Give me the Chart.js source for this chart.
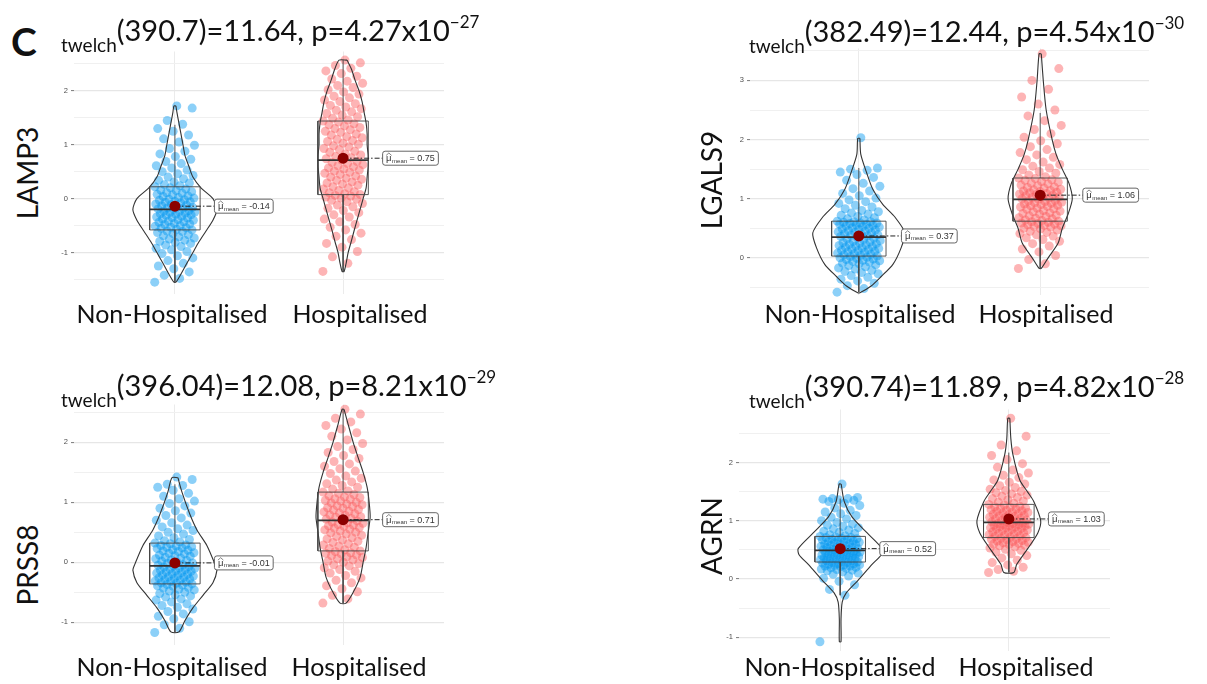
<!DOCTYPE html>
<html>
<head>
<meta charset="utf-8">
<script src="https://cdn.jsdelivr.net/npm/chart.js@4.4.1/dist/chart.umd.min.js"></script>
<style>
*{box-sizing:border-box;margin:0;padding:0}
body{width:1207px;height:684px;background:#fff;overflow:hidden;font-family:Lato,sans-serif;color:#111}
#wrap{position:relative;width:1207px;height:684px}
canvas{position:absolute}
.txt{position:absolute;white-space:nowrap;line-height:1}
.ttl{font-size:29px}
.ttl .sub{font-size:19px;position:relative;top:11px}
.ttl .sup{font-size:17px;position:relative;top:-13px}
.xl{font-size:25px;transform:translateX(-50%)}
.yl{font-size:28px;transform:translate(-50%,-50%) rotate(-90deg)}
.tag{font-size:39px;font-weight:700}
</style>
</head>
<body>
<div id="wrap"></div>
<script>
// groups + per-panel text
const groups = ["Non-Hospitalised", "Hospitalised"];
const genes = ["LAMP3", "LGALS9", "PRSS8", "AGRN"];
const welchDf = ["390.7", "382.49", "396.04", "390.74"];
const welchT = ["11.64", "12.44", "12.08", "11.89"];
const pMant = ["4.27", "4.54", "8.21", "4.82"];
const pExp = ["\u221227", "\u221230", "\u221229", "\u221228"];

// means and box stats (NH = Non-Hospitalised, H = Hospitalised)
const meanNH = [-0.14, 0.37, -0.01, 0.52];
const meanH = [0.75, 1.06, 0.71, 1.03];
const q1NH = [-0.58, 0.03, -0.36, 0.29];
const medNH = [-0.2, 0.35, -0.06, 0.49];
const q3NH = [0.22, 0.62, 0.32, 0.73];
const loNH = [-1.55, -0.58, -1.17, -0.28];
const hiNH = [1.37, 1.52, 1.3, 1.38];
const q1H = [0.075, 0.62, 0.19, 0.71];
const medH = [0.715, 0.99, 0.70, 0.97];
const q3H = [1.44, 1.35, 1.17, 1.28];
const loH = [-1.35, -0.18, -0.68, 0.11];
const hiH = [2.57, 2.45, 2.55, 2.17];

// individual observations (y values)
const lamp3NH = [-1.55,-1.48,-1.42,-1.36,-1.3,-1.25,-1.2,-1.15,-1.1,-1.06,-1.02,-0.98,-0.95,-0.92,-0.89,-0.86,-0.83,-0.81,-0.79,-0.77,-0.75,-0.73,-0.71,-0.69,-0.67,-0.65,-0.63,-0.61,-0.6,-0.58,
  -0.57,-0.55,-0.54,-0.53,-0.51,-0.5,-0.48,-0.47,-0.46,-0.44,-0.43,-0.42,-0.4,-0.39,-0.38,-0.36,-0.35,-0.34,-0.33,-0.31,-0.3,-0.29,-0.28,-0.27,-0.26,-0.25,-0.24,-0.23,-0.22,-0.2,
  -0.19,-0.18,-0.17,-0.16,-0.15,-0.13,-0.12,-0.11,-0.1,-0.08,-0.07,-0.06,-0.05,-0.03,-0.02,-0.01,0.01,0.02,0.04,0.05,0.07,0.08,0.1,0.11,0.13,0.15,0.16,0.18,0.2,0.22,
  0.24,0.26,0.29,0.31,0.34,0.37,0.4,0.43,0.46,0.5,0.53,0.57,0.61,0.65,0.69,0.73,0.78,0.83,0.88,0.93,0.99,1.05,1.11,1.18,1.25,1.3,1.38,1.45,1.68,1.72];
const lamp3H = [-1.35,-1.2,-1.08,-0.98,-0.9,-0.83,-0.76,-0.7,-0.64,-0.58,-0.53,-0.48,-0.43,-0.38,-0.34,-0.3,-0.26,-0.22,-0.18,-0.15,-0.12,-0.09,-0.06,-0.03,-0.01,0.01,0.03,0.05,0.06,0.075,
  0.09,0.11,0.13,0.15,0.18,0.2,0.22,0.25,0.27,0.29,0.31,0.34,0.36,0.38,0.4,0.42,0.45,0.47,0.49,0.51,0.53,0.55,0.57,0.59,0.61,0.63,0.65,0.67,0.69,0.715,
  0.74,0.76,0.78,0.81,0.83,0.86,0.88,0.91,0.93,0.96,0.98,1.01,1.03,1.06,1.08,1.1,1.13,1.15,1.18,1.2,1.23,1.25,1.28,1.3,1.32,1.35,1.37,1.39,1.42,1.44,
  1.46,1.49,1.52,1.55,1.58,1.61,1.64,1.67,1.7,1.73,1.76,1.8,1.83,1.87,1.9,1.94,1.98,2.02,2.06,2.1,2.14,2.18,2.22,2.27,2.32,2.37,2.42,2.47,2.52,2.57];
const lgals9NH = [-0.58,-0.52,-0.47,-0.43,-0.39,-0.36,-0.33,-0.3,-0.27,-0.25,-0.23,-0.21,-0.19,-0.17,-0.15,-0.13,-0.12,-0.1,-0.09,-0.07,-0.06,-0.05,-0.04,-0.03,-0.02,-0.01,0.0,0.01,0.02,0.03,
  0.04,0.05,0.06,0.07,0.08,0.09,0.1,0.11,0.12,0.13,0.14,0.15,0.16,0.17,0.18,0.19,0.2,0.21,0.22,0.23,0.24,0.25,0.26,0.27,0.28,0.29,0.31,0.32,0.33,0.35,
  0.36,0.37,0.38,0.39,0.4,0.41,0.42,0.43,0.44,0.45,0.46,0.47,0.48,0.49,0.5,0.51,0.52,0.53,0.54,0.55,0.56,0.57,0.57,0.58,0.59,0.59,0.6,0.61,0.61,0.62,
  0.64,0.66,0.68,0.7,0.72,0.74,0.76,0.78,0.8,0.83,0.86,0.89,0.92,0.95,0.98,1.01,1.05,1.09,1.13,1.17,1.21,1.26,1.31,1.36,1.41,1.45,1.48,1.5,1.52,2.03];
const lgals9H = [-0.18,-0.1,-0.03,0.04,0.1,0.15,0.2,0.24,0.28,0.31,0.34,0.37,0.39,0.41,0.43,0.45,0.47,0.49,0.5,0.52,0.53,0.54,0.55,0.56,0.57,0.58,0.59,0.6,0.61,0.62,
  0.63,0.64,0.66,0.67,0.68,0.7,0.71,0.72,0.74,0.75,0.76,0.78,0.79,0.8,0.82,0.83,0.84,0.86,0.87,0.88,0.89,0.9,0.91,0.92,0.93,0.94,0.95,0.96,0.97,0.99,
  1.0,1.01,1.02,1.03,1.04,1.05,1.06,1.07,1.08,1.09,1.1,1.11,1.12,1.13,1.14,1.15,1.16,1.18,1.19,1.2,1.22,1.23,1.25,1.26,1.28,1.29,1.31,1.32,1.34,1.35,
  1.37,1.4,1.43,1.46,1.49,1.52,1.55,1.58,1.62,1.66,1.7,1.74,1.78,1.83,1.88,1.93,1.98,2.04,2.1,2.17,2.24,2.32,2.4,2.5,2.6,2.72,2.85,3.0,3.2,3.45];
const prss8NH = [-1.17,-1.1,-1.04,-0.99,-0.94,-0.9,-0.86,-0.82,-0.78,-0.75,-0.72,-0.69,-0.66,-0.63,-0.61,-0.58,-0.56,-0.54,-0.52,-0.5,-0.48,-0.46,-0.45,-0.43,-0.42,-0.4,-0.39,-0.38,-0.37,-0.36,
  -0.35,-0.34,-0.33,-0.32,-0.31,-0.3,-0.29,-0.28,-0.27,-0.26,-0.25,-0.24,-0.23,-0.22,-0.21,-0.2,-0.19,-0.18,-0.17,-0.16,-0.15,-0.14,-0.13,-0.12,-0.11,-0.1,-0.09,-0.08,-0.07,-0.06,
  -0.05,-0.04,-0.02,-0.01,0.0,0.02,0.03,0.04,0.06,0.07,0.08,0.1,0.11,0.12,0.14,0.15,0.16,0.18,0.19,0.2,0.21,0.23,0.24,0.25,0.26,0.27,0.28,0.29,0.31,0.32,
  0.34,0.36,0.38,0.41,0.44,0.47,0.5,0.53,0.56,0.59,0.62,0.66,0.7,0.74,0.78,0.82,0.86,0.9,0.94,0.98,1.02,1.06,1.1,1.15,1.2,1.25,1.28,1.3,1.38,1.42];
const prss8H = [-0.68,-0.61,-0.55,-0.49,-0.44,-0.39,-0.34,-0.3,-0.26,-0.22,-0.18,-0.15,-0.12,-0.09,-0.06,-0.04,-0.02,0.0,0.02,0.04,0.06,0.08,0.09,0.11,0.12,0.14,0.15,0.16,0.18,0.19,
  0.21,0.23,0.25,0.27,0.29,0.31,0.33,0.35,0.37,0.39,0.41,0.43,0.45,0.47,0.49,0.5,0.52,0.54,0.55,0.57,0.58,0.6,0.61,0.62,0.63,0.65,0.66,0.67,0.69,0.7,
  0.72,0.73,0.75,0.76,0.78,0.79,0.81,0.82,0.84,0.85,0.87,0.88,0.9,0.91,0.93,0.94,0.96,0.97,0.99,1.0,1.02,1.03,1.05,1.06,1.08,1.09,1.11,1.13,1.15,1.17,
  1.19,1.22,1.25,1.28,1.31,1.34,1.37,1.4,1.44,1.48,1.52,1.56,1.6,1.64,1.68,1.73,1.78,1.83,1.88,1.93,1.98,2.04,2.1,2.16,2.22,2.28,2.34,2.4,2.47,2.55];
const agrnNH = [-1.08,-0.28,-0.18,-0.1,-0.04,0.01,0.05,0.08,0.1,0.12,0.14,0.15,0.16,0.17,0.18,0.19,0.2,0.21,0.22,0.22,0.23,0.24,0.24,0.25,0.26,0.26,0.27,0.28,0.28,0.29,
  0.3,0.31,0.31,0.32,0.33,0.33,0.34,0.35,0.35,0.36,0.37,0.37,0.38,0.39,0.39,0.4,0.41,0.41,0.42,0.43,0.43,0.44,0.45,0.45,0.46,0.46,0.47,0.48,0.48,0.49,
  0.5,0.51,0.51,0.52,0.53,0.54,0.55,0.55,0.56,0.57,0.58,0.59,0.6,0.6,0.61,0.62,0.63,0.64,0.64,0.65,0.66,0.67,0.68,0.68,0.69,0.7,0.71,0.71,0.72,0.73,
  0.74,0.76,0.78,0.8,0.82,0.84,0.86,0.88,0.9,0.92,0.94,0.97,1.0,1.03,1.06,1.09,1.12,1.15,1.18,1.22,1.26,1.3,1.33,1.35,1.36,1.37,1.38,1.38,1.4,1.63];
const agrnH = [0.11,0.13,0.16,0.2,0.24,0.28,0.32,0.36,0.4,0.43,0.46,0.49,0.51,0.53,0.55,0.57,0.58,0.59,0.6,0.61,0.62,0.63,0.64,0.65,0.66,0.67,0.68,0.69,0.7,0.71,
  0.72,0.73,0.74,0.75,0.76,0.77,0.78,0.79,0.8,0.81,0.82,0.83,0.84,0.85,0.86,0.87,0.88,0.88,0.89,0.9,0.91,0.91,0.92,0.93,0.93,0.94,0.95,0.95,0.96,0.97,
  0.98,0.99,1.0,1.01,1.02,1.03,1.04,1.05,1.06,1.07,1.08,1.09,1.1,1.11,1.12,1.13,1.14,1.15,1.16,1.17,1.18,1.19,1.2,1.21,1.22,1.23,1.24,1.25,1.27,1.28,
  1.3,1.32,1.34,1.36,1.38,1.4,1.42,1.44,1.46,1.48,1.5,1.52,1.54,1.57,1.6,1.63,1.66,1.7,1.74,1.78,1.82,1.87,1.92,1.98,2.05,2.12,2.2,2.3,2.45,2.76];

// violin outlines: [y, half width in category units]
const vioLamp3NH = [[1.72,0.006],[1.6,0.012],[1.4,0.024],[1.2,0.036],[1.0,0.048],[0.8,0.06],[0.6,0.083],[0.4,0.107],[0.2,0.155],[0.0,0.226],[-0.2,0.25],[-0.4,0.226],[-0.6,0.185],[-0.8,0.143],[-1.0,0.107],[-1.2,0.071],[-1.4,0.036],[-1.55,0.006]];
const vioLamp3H = [[2.57,0.024],[2.4,0.05],[2.2,0.071],[2.0,0.095],[1.8,0.113],[1.6,0.125],[1.4,0.137],[1.2,0.143],[1.0,0.143],[0.8,0.149],[0.6,0.149],[0.4,0.143],[0.2,0.137],[0.0,0.119],[-0.2,0.101],[-0.4,0.083],[-0.6,0.065],[-0.8,0.048],[-1.0,0.03],[-1.2,0.018],[-1.35,0.006]];
const vioLgals9NH = [[2.02,0.006],[1.75,0.011],[1.43,0.044],[1.16,0.077],[0.9,0.133],[0.69,0.199],[0.42,0.254],[0.16,0.232],[-0.11,0.188],[-0.32,0.122],[-0.48,0.066],[-0.59,0.006]];
const vioLgals9H = [[3.45,0.006],[3.0,0.017],[2.5,0.033],[2.0,0.066],[1.75,0.088],[1.5,0.122],[1.25,0.16],[1.0,0.177],[0.75,0.155],[0.5,0.122],[0.25,0.099],[0.0,0.044],[-0.18,0.006]];
const vioPrss8NH = [[1.41,0.018],[1.17,0.042],[0.8,0.089],[0.54,0.131],[0.28,0.19],[-0.03,0.238],[-0.13,0.25],[-0.34,0.226],[-0.55,0.167],[-0.76,0.107],[-0.97,0.06],[-1.16,0.024]];
const vioPrss8H = [[2.55,0.006],[2.3,0.03],[2.0,0.06],[1.75,0.089],[1.5,0.119],[1.25,0.143],[1.0,0.155],[0.75,0.161],[0.5,0.149],[0.25,0.137],[0.0,0.119],[-0.25,0.101],[-0.5,0.06],[-0.68,0.018]];
const vioAgrnNH = [[1.63,0.006],[1.33,0.024],[1.06,0.071],[0.79,0.16],[0.52,0.249],[0.41,0.243],[0.25,0.189],[-0.02,0.107],[-0.24,0.036],[-0.4,0.012],[-0.7,0.005],[-1.08,0.005]];
const vioAgrnH = [[2.76,0.006],[2.41,0.012],[2.14,0.024],[1.7,0.065],[1.49,0.112],[1.33,0.148],[1.0,0.189],[0.79,0.172],[0.52,0.112],[0.25,0.047],[0.11,0.03]];

// layout: plot rectangles in page pixels, y ranges
const panelBox = [
  {left: 74, right: 444, top: 44, bottom: 301, yMin: -1.76, yMax: 2.73},
  {left: 750, right: 1149, top: 41, bottom: 302, yMin: -0.62, yMax: 3.54},
  {left: 74, right: 444, top: 397, bottom: 652, yMin: -1.37, yMax: 2.63},
  {left: 739, right: 1110, top: 402, bottom: 658, yMin: -1.23, yMax: 2.91},
];
const titlePos = [[61, 15], [749, 16], [61, 370], [749, 371]];
const genePos = [[27, 173], [711, 180], [27, 565], [711, 536]];
const xLabPos = [[172, 360, 301], [860, 1046, 301], [172, 359, 654], [840, 1026, 654]];

const AX = 30;           // room for y tick labels
const BOX_HW = 0.15;     // half width of box
const LABEL_DX = 0.235;  // offset of mean label
const COLS = ["rgba(0,150,240,0.45)", "rgba(250,88,92,0.45)"];

const wrap = document.getElementById("wrap");
const isInt = v => Math.abs(v - Math.round(v)) < 1e-6;
const jitter = i => (((i * 0.6180339887) % 1) - 0.5) * 0.24;

const meanLabel = {
  id: "meanLabel",
  afterDatasetsDraw(chart, args, opts) {
    const { ctx, scales: { x, y } } = chart;
    opts.means.forEach((m, g) => {
      const x0 = x.getPixelForValue(g + 1 + LABEL_DX);
      const y0 = y.getPixelForValue(m);
      const val = " = " + m.toFixed(2);
      ctx.save();
      ctx.font = '9.5px "Liberation Sans"'; const wMu = ctx.measureText("\u03bc").width;
      ctx.font = '6px "Liberation Sans"'; const wSub = ctx.measureText("mean").width;
      ctx.font = '9px "Liberation Sans"'; const wVal = ctx.measureText(val).width;
      const bw = 3.5 + wMu + 0.5 + wSub + wVal + 3.5, bh = 14;
      ctx.beginPath();
      ctx.roundRect(x0, y0 - bh / 2, bw, bh, 2.5);
      ctx.fillStyle = "#fff"; ctx.fill();
      ctx.lineWidth = 0.9; ctx.strokeStyle = "#555"; ctx.stroke();
      ctx.fillStyle = "#333";
      let tx = x0 + 3.5;
      ctx.font = '9.5px "Liberation Sans"'; ctx.fillText("\u03bc", tx, y0 + 3.2);
      ctx.beginPath();
      ctx.moveTo(tx, y0 - 2.8); ctx.lineTo(tx + wMu / 2, y0 - 5.2); ctx.lineTo(tx + wMu, y0 - 2.8);
      ctx.lineWidth = 0.6; ctx.strokeStyle = "#333"; ctx.stroke();
      tx += wMu + 0.5;
      ctx.font = '6px "Liberation Sans"'; ctx.fillText("mean", tx, y0 + 4.5);
      tx += wSub;
      ctx.font = '9px "Liberation Sans"'; ctx.fillText(val, tx, y0 + 3.2);
      ctx.restore();
    });
  }
};

function line(ds, pts, color, width, extra) {
  ds.push(Object.assign({
    data: pts, showLine: true, fill: false, borderColor: color, borderWidth: width,
    pointRadius: 0, tension: 0, clip: false, order: 100 - ds.length
  }, extra || {}));
}

function buildPanel(k, points, violins) {
  const B = panelBox[k];
  const w = B.right - B.left + AX, h = B.bottom - B.top;
  const cv = document.createElement("canvas");
  cv.width = w; cv.height = h;
  cv.style.left = (B.left - AX) + "px"; cv.style.top = B.top + "px";
  cv.style.width = w + "px"; cv.style.height = h + "px";
  wrap.appendChild(cv);

  const stats = [
    { q1: q1NH[k], med: medNH[k], q3: q3NH[k], lo: loNH[k], hi: hiNH[k], mean: meanNH[k] },
    { q1: q1H[k], med: medH[k], q3: q3H[k], lo: loH[k], hi: hiH[k], mean: meanH[k] },
  ];
  const ds = [];
  // jittered points first (bottom layer)
  points.forEach((arr, g) => {
    ds.push({
      data: arr.map((v, i) => ({ x: g + 1 + jitter(i), y: v })),
      pointRadius: 4.5, pointBackgroundColor: COLS[g], pointBorderWidth: 0,
      showLine: false, clip: false, order: 100 - ds.length
    });
  });
  violins.forEach((vio, g) => {
    const c = g + 1;
    const right = vio.map(([y, hw]) => ({ x: c + hw, y }));
    const left = vio.slice().reverse().map(([y, hw]) => ({ x: c - hw, y }));
    line(ds, right.concat(left, [right[0]]), "#333", 1.1, { tension: 0.25 });
  });
  stats.forEach((s, g) => {
    const c = g + 1;
    line(ds, [{ x: c, y: s.q3 }, { x: c, y: s.hi }], "#444", 0.9);
    line(ds, [{ x: c, y: s.q1 }, { x: c, y: s.lo }], "#444", 0.9);
    line(ds, [{ x: c - BOX_HW, y: s.q1 }, { x: c + BOX_HW, y: s.q1 }, { x: c + BOX_HW, y: s.q3 },
      { x: c - BOX_HW, y: s.q3 }, { x: c - BOX_HW, y: s.q1 }], "#444", 0.9);
    line(ds, [{ x: c - BOX_HW, y: s.med }, { x: c + BOX_HW, y: s.med }], "#333", 1.8);
    line(ds, [{ x: c, y: s.mean }, { x: c + LABEL_DX, y: s.mean }], "#222", 1, { borderDash: [5, 2, 1.5, 2] });
    ds.push({
      data: [{ x: c, y: s.mean }], pointRadius: 5.5, pointBackgroundColor: "#8b0000",
      pointBorderWidth: 0, showLine: false, clip: false, order: 100 - ds.length
    });
  });

  new Chart(cv, {
    type: "scatter",
    data: { datasets: ds },
    options: {
      responsive: false, animation: false, events: [],
      layout: { autoPadding: false, padding: 0 },
      plugins: { legend: { display: false }, tooltip: { enabled: false }, meanLabel: { means: [stats[0].mean, stats[1].mean] } },
      scales: {
        x: {
          type: "linear", min: 0.4, max: 2.6,
          afterBuildTicks: s => { s.ticks = [{ value: 1 }, { value: 2 }]; },
          afterFit: s => { s.height = 0; },
          ticks: { display: false },
          grid: { color: "#ebebeb", lineWidth: 1, drawTicks: false },
          border: { display: false }
        },
        y: {
          type: "linear", min: B.yMin, max: B.yMax,
          // grid every 0.5, labels on whole numbers
          afterBuildTicks: s => {
            const t = [];
            for (let v = Math.ceil(s.min * 2) / 2; v <= s.max + 1e-9; v += 0.5) t.push({ value: Math.round(v * 2) / 2 });
            s.ticks = t;
          },
          afterFit: s => { s.width = AX; },
          ticks: {
            padding: 3,
            callback: v => isInt(v) ? String(Math.round(v)) : "",
            color: "#4d4d4d", font: { family: "Liberation Sans", size: 7.5 }
          },
          grid: {
            color: c => isInt(c.tick.value) ? "#e6e6e6" : "#f0f0f0",
            lineWidth: c => isInt(c.tick.value) ? 1.2 : 1,
            tickColor: c => (c.tick && isInt(c.tick.value)) ? "#555" : "rgba(0,0,0,0)",
            tickLength: 3, tickWidth: 0.8
          },
          border: { display: false }
        }
      }
    },
    plugins: [meanLabel]
  });
}

buildPanel(0, [lamp3NH, lamp3H], [vioLamp3NH, vioLamp3H]);
buildPanel(1, [lgals9NH, lgals9H], [vioLgals9NH, vioLgals9H]);
buildPanel(2, [prss8NH, prss8H], [vioPrss8NH, vioPrss8H]);
buildPanel(3, [agrnNH, agrnH], [vioAgrnNH, vioAgrnH]);

// text layer
function addText(cls, html, left, top) {
  const d = document.createElement("div");
  d.className = "txt " + cls;
  d.innerHTML = html;
  d.style.left = left + "px";
  d.style.top = top + "px";
  wrap.appendChild(d);
}
addText("tag", "C", 11, 22);
genes.forEach((g, k) => {
  addText("ttl", '<span class="sub">twelch</span>(' + welchDf[k] + ")=" + welchT[k] + ", p=" + pMant[k] +
    'x10<span class="sup">' + pExp[k] + "</span>", titlePos[k][0], titlePos[k][1]);
  addText("yl", g, genePos[k][0], genePos[k][1]);
  addText("xl", groups[0], xLabPos[k][0], xLabPos[k][2]);
  addText("xl", groups[1], xLabPos[k][1], xLabPos[k][2]);
});
</script>
</body>
</html>
